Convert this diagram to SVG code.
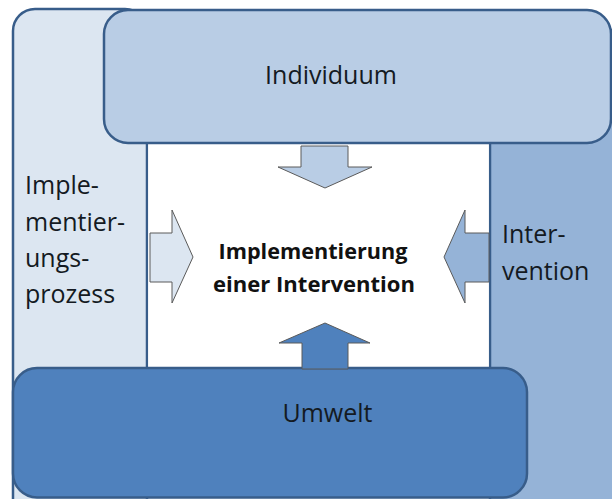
<svg xmlns="http://www.w3.org/2000/svg" width="612" height="499" viewBox="0 0 612 499">
<style>
.box{stroke:#385d8a;stroke-width:2.5}
.arr{stroke:#5a5a5a;stroke-width:1;stroke-linejoin:miter}
.lbl{font-family:"Open Sans","Liberation Sans",sans-serif;font-size:25px;fill:#141a22}
.ctr{font-family:"Open Sans","Liberation Sans",sans-serif;font-size:21px;font-weight:bold;fill:#111}
</style>
<rect width="612" height="499" fill="#ffffff"/>
<g id="implementierungsprozess">
<rect class="box" x="13" y="9" width="134" height="520" rx="22" fill="#dce6f1"/>
<text class="lbl" x="25" y="194">Imple-</text>
<text class="lbl" x="25" y="230.5">mentier-</text>
<text class="lbl" x="25" y="267">ungs-</text>
<text class="lbl" x="25" y="303">prozess</text>
</g>
<g id="intervention">
<rect class="box" x="490" y="30" width="160" height="500" rx="22" fill="#95b3d7"/>
<text class="lbl" x="502" y="243">Inter-</text>
<text class="lbl" x="502" y="280">vention</text>
</g>
<g id="center">
<rect x="148.25" y="143" width="340.5" height="226" fill="#ffffff"/>
<text class="ctr" x="313" y="259" text-anchor="middle" textLength="189" lengthAdjust="spacingAndGlyphs">Implementierung</text>
<text class="ctr" x="314" y="292" text-anchor="middle" textLength="202" lengthAdjust="spacingAndGlyphs">einer Intervention</text>
</g>
<g id="individuum">
<rect class="box" x="104" y="10" width="507" height="133" rx="24" fill="#b9cde5"/>
<text class="lbl" x="331" y="84" text-anchor="middle">Individuum</text>
</g>
<g id="umwelt">
<rect class="box" x="13" y="368" width="514" height="129.5" rx="24" fill="#4f81bd"/>
<text class="lbl" x="327.5" y="422" text-anchor="middle">Umwelt</text>
</g>
<g id="connectors">
<polygon class="arr" fill="#b9cde5" points="301,146 348,146 348,167 372,167 325,188 278,167 301,167"/>
<polygon class="arr" fill="#4f81bd" points="302,369 348,369 348,343 370,343 325,323 279,343 302,343"/>
<polygon class="arr" fill="#dce6f1" points="150,233 172,233 172,210 193,257 172,303 172,282 150,282"/>
<polygon class="arr" fill="#95b3d7" points="489,233 465,233 465,210 444,257 465,303 465,282 489,282"/>
</g>
</svg>
